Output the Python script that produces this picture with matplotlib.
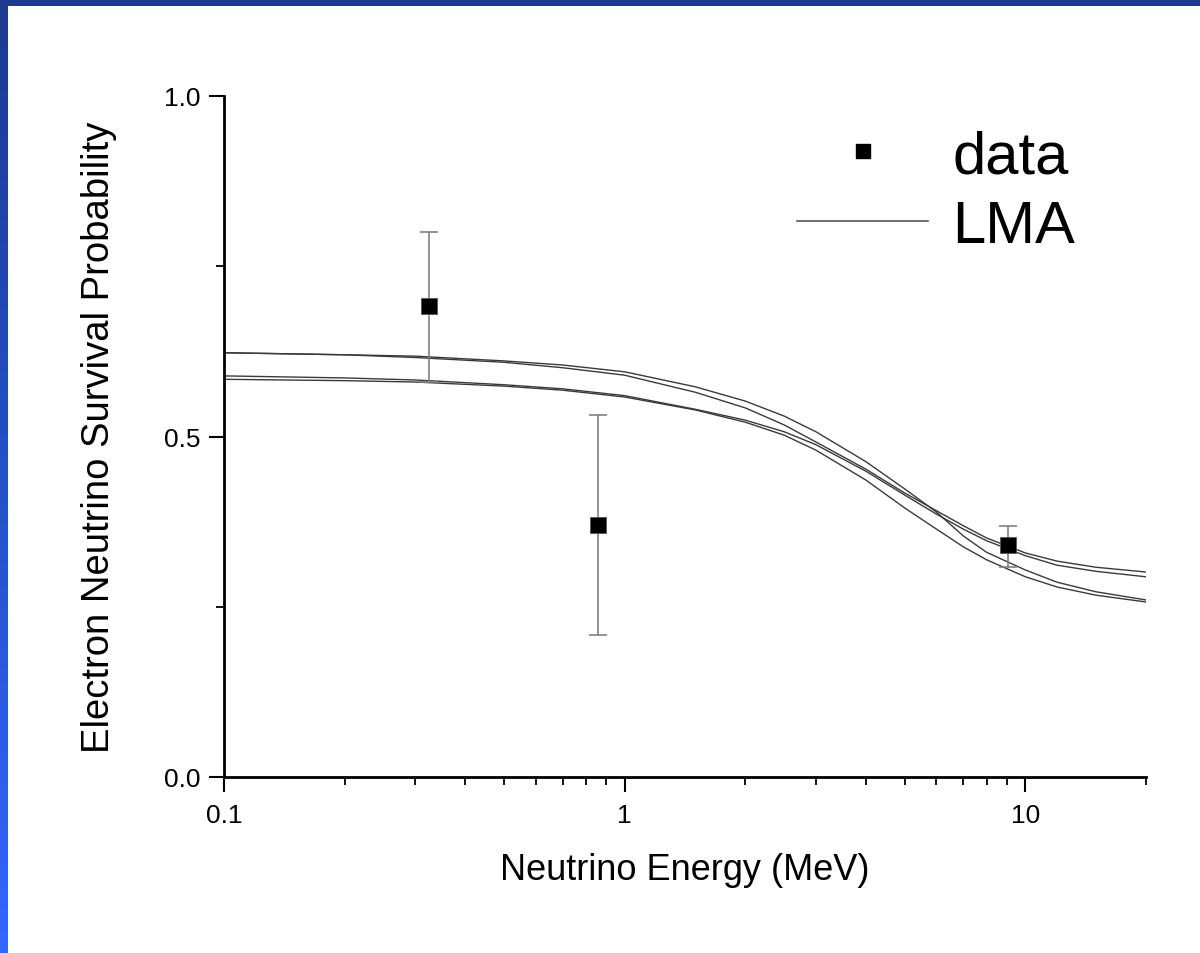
import numpy as np
import matplotlib.pyplot as plt
from matplotlib.lines import Line2D
from matplotlib.colors import LinearSegmentedColormap

plt.rcParams['font.family'] = ['Liberation Sans', 'DejaVu Sans']

# measured survival probabilities
data_e = [0.324, 0.860, 9.03]
data_p = [0.691, 0.370, 0.340]
data_err_lo = [0.111, 0.161, 0.031]
data_err_hi = [0.109, 0.161, 0.029]

# LMA predictions (four curves)
lma_e = [0.1, 0.2, 0.3, 0.5, 0.7, 1, 1.5, 2, 2.5, 3, 4, 5, 6, 7, 8, 10, 12, 15, 20]
lma_a = [0.623, 0.620, 0.618, 0.611, 0.605, 0.595, 0.573, 0.552, 0.530, 0.507,
         0.463, 0.423, 0.389, 0.354, 0.330, 0.304, 0.286, 0.272, 0.260]
lma_b = [0.623, 0.620, 0.616, 0.609, 0.601, 0.590, 0.565, 0.542, 0.517, 0.492,
         0.452, 0.417, 0.391, 0.369, 0.351, 0.329, 0.317, 0.308, 0.301]
lma_c = [0.589, 0.586, 0.583, 0.576, 0.570, 0.560, 0.540, 0.524, 0.507, 0.488,
         0.449, 0.414, 0.386, 0.364, 0.347, 0.325, 0.311, 0.302, 0.294]
lma_d = [0.584, 0.582, 0.580, 0.574, 0.568, 0.558, 0.539, 0.521, 0.502, 0.480,
         0.436, 0.395, 0.364, 0.338, 0.319, 0.294, 0.279, 0.267, 0.257]

fig = plt.figure(figsize=(12, 9.54), dpi=100)
fig.patch.set_facecolor('white')

# blue slide frame: top bar and left gradient strip
top = fig.add_axes([0, 1 - 7 / 954, 1, 7 / 954])
top.set_axis_off()
top.add_patch(plt.Rectangle((0, 0), 1, 1, color='#1e3a8f', transform=top.transAxes))
strip = fig.add_axes([0, 0, 8 / 1200, 1 - 7 / 954])
cmap = LinearSegmentedColormap.from_list('frame', ['#1e3a8f', '#2550c8', '#3366ff'])
strip.imshow(np.linspace(0, 1, 256).reshape(-1, 1), aspect='auto', cmap=cmap)
strip.set_axis_off()

ax = fig.add_axes([224 / 1200, 1 - 778 / 954, (1146 - 224) / 1200, (778 - 97) / 954])

for curve in [lma_a, lma_b, lma_c, lma_d]:
    ax.plot(lma_e, curve, color='#3a3a3a', lw=1.0)

ax.errorbar(data_e, data_p, yerr=[data_err_lo, data_err_hi], fmt='none',
            ecolor='#808080', elinewidth=1.2, capsize=6.5, capthick=1.2)
ax.plot(data_e, data_p, 's', color='black', markersize=11, mec='#555555', mew=0.6)

ax.set_xscale('log')
ax.set_xlim(0.1, 20)
ax.set_ylim(0, 1)
ax.set_xticks([0.1, 1, 10])
ax.set_xticklabels(['0.1', '1', '10'])
ax.set_yticks([0.0, 0.5, 1.0])
ax.set_yticklabels(['0.0', '0.5', '1.0'])
ax.set_yticks([0.25, 0.75], minor=True)

for side in ['top', 'right']:
    ax.spines[side].set_visible(False)
for side in ['left', 'bottom']:
    ax.spines[side].set_linewidth(2.0)

ax.tick_params(which='major', direction='out', length=11, width=1.5, labelsize=19, pad=6)
ax.tick_params(which='minor', direction='out', length=5.5, width=1.3)
ax.tick_params(axis='x', which='minor', labelbottom=False)
ax.tick_params(axis='x', which='major', pad=8)

ax.set_xlabel('Neutrino Energy (MeV)', fontsize=26, labelpad=18)
ax.set_ylabel('Electron Neutrino Survival Probability', fontsize=27.5, labelpad=34)

handles = [Line2D([], [], marker='s', ls='none', color='black', markersize=10),
           Line2D([], [], color='#555555', lw=1.2)]
fig.legend(handles, ['data', 'LMA'], loc='upper left',
           bbox_to_anchor=(797 / 1200, 1 - 130 / 954), bbox_transform=fig.transFigure,
           frameon=False, fontsize=43, handlelength=2.2, handletextpad=0.4,
           labelspacing=0.25, borderpad=0, borderaxespad=0)

fig.savefig('out.png', dpi=100, facecolor='white')
